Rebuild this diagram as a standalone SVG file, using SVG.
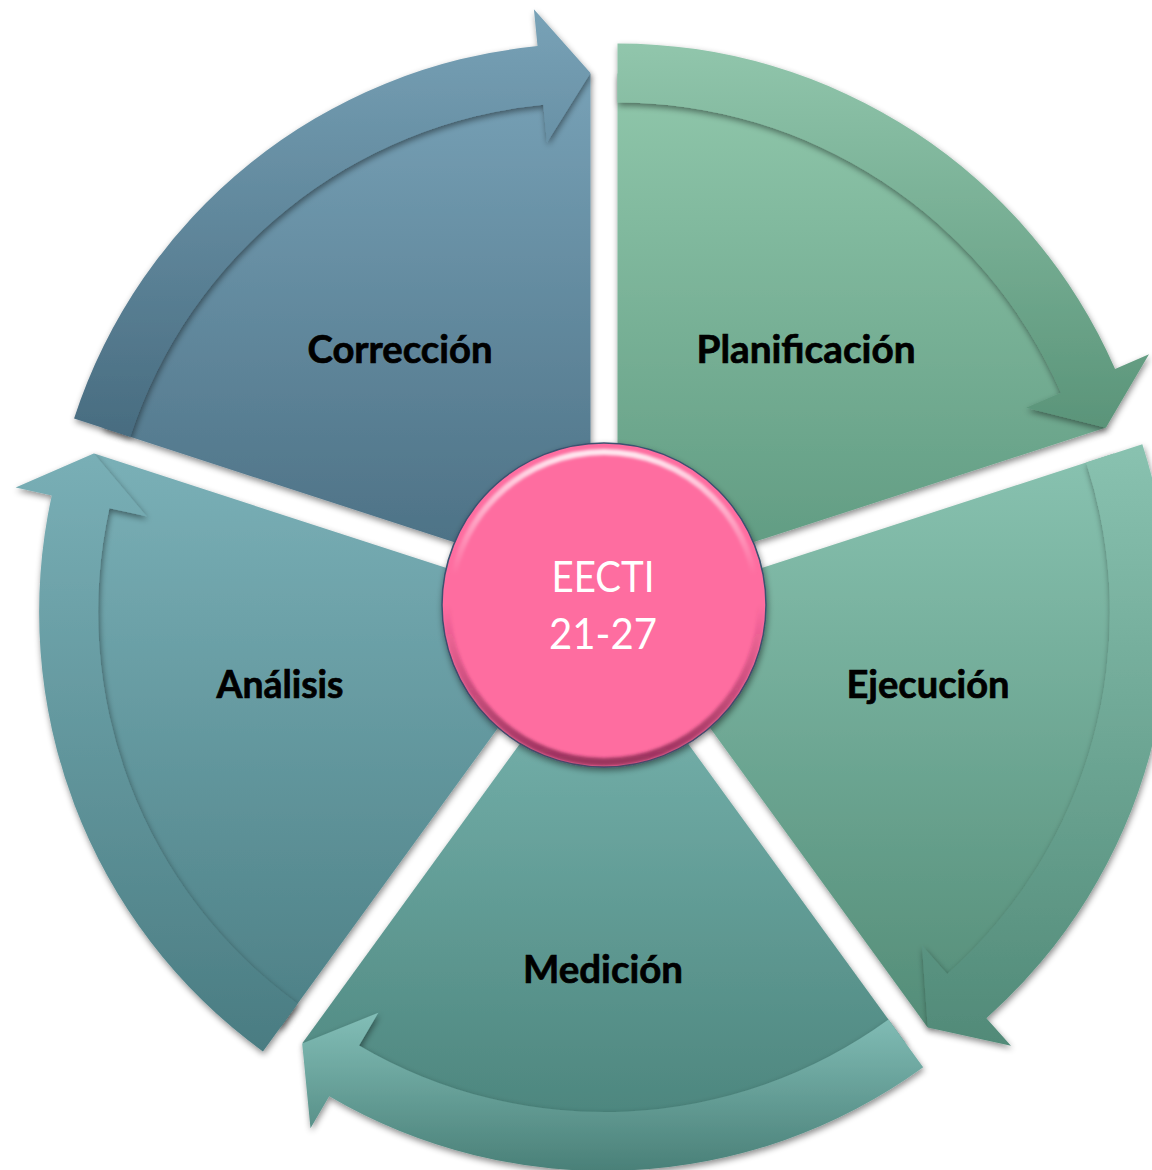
<svg xmlns="http://www.w3.org/2000/svg" width="1152" height="1170" viewBox="0 0 1152 1170">
<defs>
<style>
.lbl{font-family:Lato,"Open Sans","Liberation Sans",sans-serif;font-weight:700;font-size:39px;fill:#000;stroke:#000;stroke-width:0.7px;text-anchor:middle}
.ctr{font-family:Lato,"Open Sans","Liberation Sans",sans-serif;font-weight:400;font-size:42px;fill:#fff;text-anchor:middle}
.shp{filter:url(#sh)}
</style>
<filter id="sh" x="-10%" y="-10%" width="120%" height="120%"><feDropShadow dx="1" dy="3" stdDeviation="3" flood-color="#000" flood-opacity="0.45"/></filter>
<filter id="bl" x="-10%" y="-10%" width="120%" height="120%"><feGaussianBlur stdDeviation="1.6"/></filter>
<linearGradient id="gCs" x1="0" y1="0" x2="0" y2="1"><stop offset="0" stop-color="#77a1b6"/><stop offset="1" stop-color="#4a6e82"/></linearGradient>
<linearGradient id="gCa" x1="0" y1="0" x2="0" y2="1"><stop offset="0" stop-color="#78a2b7"/><stop offset="1" stop-color="#486c80"/></linearGradient>
<linearGradient id="gPs" x1="0" y1="0" x2="0" y2="1"><stop offset="0" stop-color="#90c7ab"/><stop offset="1" stop-color="#5e9980"/></linearGradient>
<linearGradient id="gPa" x1="0" y1="0" x2="0" y2="1"><stop offset="0" stop-color="#91c6ac"/><stop offset="1" stop-color="#5a9479"/></linearGradient>
<linearGradient id="gEs" x1="0" y1="0" x2="0" y2="1"><stop offset="0" stop-color="#88c2b0"/><stop offset="1" stop-color="#548d78"/></linearGradient>
<linearGradient id="gEa" x1="0" y1="0" x2="0" y2="1"><stop offset="0" stop-color="#89c2b0"/><stop offset="1" stop-color="#518a78"/></linearGradient>
<linearGradient id="gMs" x1="0" y1="0" x2="0" y2="1"><stop offset="0" stop-color="#7bb7b2"/><stop offset="1" stop-color="#4b847c"/></linearGradient>
<linearGradient id="gMa" x1="0" y1="0" x2="0" y2="1"><stop offset="0" stop-color="#82beb7"/><stop offset="1" stop-color="#4a8078"/></linearGradient>
<linearGradient id="gAs" x1="0" y1="0" x2="0" y2="1"><stop offset="0" stop-color="#7ab0b7"/><stop offset="1" stop-color="#4d8086"/></linearGradient>
<linearGradient id="gAa" x1="0" y1="0" x2="0" y2="1"><stop offset="0" stop-color="#79afb6"/><stop offset="1" stop-color="#4a7c82"/></linearGradient>
<linearGradient id="hl" x1="0" y1="0" x2="0" y2="1"><stop offset="0" stop-color="#fff" stop-opacity="0.85"/><stop offset="0.4" stop-color="#fff" stop-opacity="0"/></linearGradient>
<linearGradient id="dk" x1="0" y1="0" x2="0" y2="1"><stop offset="0.5" stop-color="#7a1f48" stop-opacity="0"/><stop offset="1" stop-color="#7a1f48" stop-opacity="0.75"/></linearGradient>
</defs>
<rect width="1152" height="1170" fill="#fff"/>

<g id="node-planificacion">
<path class="shp" transform="translate(617.5,586.4)" fill="url(#gPs)" d="M0,0 L0,-513 A513,513 0 0 1 487.89,-158.53 Z"/>
<text class="lbl" x="806" y="363" textLength="219" lengthAdjust="spacingAndGlyphs">Planificación</text>
</g>
<g id="node-ejecucion">
<path class="shp" transform="translate(625.9,612.1)" fill="url(#gEs)" d="M0,0 L487.89,-158.53 A513,513 0 0 1 301.54,415.03 Z"/>
<text class="lbl" x="928" y="698" textLength="163" lengthAdjust="spacingAndGlyphs">Ejecución</text>
</g>
<g id="node-medicion">
<path class="shp" transform="translate(604,628)" fill="url(#gMs)" d="M0,0 L301.54,415.03 A513,513 0 0 1 -301.54,415.03 Z"/>
<text class="lbl" x="603" y="983" textLength="160" lengthAdjust="spacingAndGlyphs">Medición</text>
</g>
<g id="node-analisis">
<path class="shp" transform="translate(582.1,612.1)" fill="url(#gAs)" d="M0,0 L-301.54,415.03 A513,513 0 0 1 -487.89,-158.53 Z"/>
<text class="lbl" x="280" y="698" textLength="127" lengthAdjust="spacingAndGlyphs">Análisis</text>
</g>
<g id="node-correccion">
<path class="shp" transform="translate(590.5,586.4)" fill="url(#gCs)" d="M0,0 L-487.89,-158.53 A513,513 0 0 1 0,-513 Z"/>
<text class="lbl" x="400" y="363" textLength="185" lengthAdjust="spacingAndGlyphs">Corrección</text>
</g>

<g id="connectors">
<path class="shp" transform="translate(617.5,586.4)" fill="url(#gPa)" d="M0,-543 A543,543 0 0 1 497.58,-217.39 L531.49,-232.20 L488.37,-158.68 L408.70,-178.56 L443.52,-193.77 A484,484 0 0 0 0,-484 Z"/>
<path class="shp" transform="translate(625.9,612.1)" fill="url(#gEa)" d="M516.43,-167.80 A543,543 0 0 1 360.51,406.06 L385.08,433.72 L301.83,415.43 L296.11,333.52 L321.34,361.94 A484,484 0 0 0 460.31,-149.57 Z"/>
<path class="shp" transform="translate(604,628)" fill="url(#gMa)" d="M319.17,439.30 A543,543 0 0 1 -274.77,468.34 L-293.50,500.26 L-301.83,415.43 L-225.69,384.68 L-244.92,417.45 A484,484 0 0 0 284.49,391.57 Z"/>
<path class="shp" transform="translate(582.1,612.1)" fill="url(#gAa)" d="M-319.17,439.30 A543,543 0 0 1 -530.33,-116.60 L-566.47,-124.55 L-488.37,-158.68 L-435.59,-95.77 L-472.71,-103.93 A484,484 0 0 0 -284.49,391.57 Z"/>
<path class="shp" transform="translate(590.5,586.4)" fill="url(#gCa)" d="M-516.43,-167.80 A543,543 0 0 1 -52.99,-540.41 L-56.60,-577.23 L0,-513.5 L-43.52,-443.87 L-47.23,-481.69 A484,484 0 0 0 -460.31,-149.57 Z"/>
</g>

<g id="node-center">
<circle class="shp" cx="604" cy="605" r="162" fill="#fe6da0" stroke="#3b5270" stroke-width="1.5"/>
<circle cx="604" cy="605" r="153" fill="none" stroke="url(#hl)" stroke-width="6" filter="url(#bl)"/>
<circle cx="604" cy="605" r="157" fill="none" stroke="url(#dk)" stroke-width="8" filter="url(#bl)"/>
<text class="ctr" x="603" y="592" textLength="103" lengthAdjust="spacingAndGlyphs">EECTI</text>
<text class="ctr" x="603" y="649" textLength="108" lengthAdjust="spacingAndGlyphs">21-27</text>
</g>
</svg>
